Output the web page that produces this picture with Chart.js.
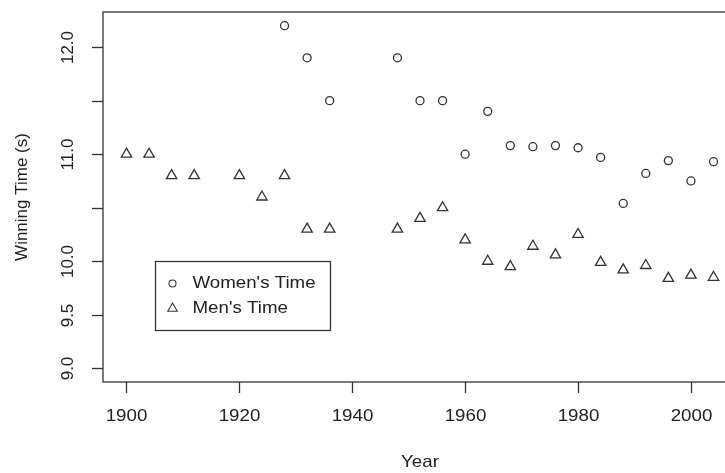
<!DOCTYPE html>
<html>
<head>
<meta charset="utf-8">
<script src="https://cdn.jsdelivr.net/npm/chart.js@4.4.1/dist/chart.umd.min.js"></script>
<style>
  html, body { margin: 0; padding: 0; background: #fff; overflow: hidden; }
  #wrap { width: 745px; height: 473px; }
</style>
</head>
<body>
<div id="wrap"><canvas id="chart" width="745" height="473"></canvas></div>
<script>
// Olympic 100m winning times
const womenYears = [1928, 1932, 1936, 1948, 1952, 1956, 1960, 1964, 1968, 1972, 1976, 1980, 1984, 1988, 1992, 1996, 2000, 2004];
const womenTimes = [12.2, 11.9, 11.5, 11.9, 11.5, 11.5, 11.0, 11.4, 11.08, 11.07, 11.08, 11.06, 10.97, 10.54, 10.82, 10.94, 10.75, 10.93];

const menYears = [1900, 1904, 1908, 1912, 1920, 1924, 1928, 1932, 1936, 1948, 1952, 1956, 1960, 1964, 1968, 1972, 1976, 1980, 1984, 1988, 1992, 1996, 2000, 2004];
const menTimes = [11.0, 11.0, 10.8, 10.8, 10.8, 10.6, 10.8, 10.3, 10.3, 10.3, 10.4, 10.5, 10.2, 10.0, 9.95, 10.14, 10.06, 10.25, 9.99, 9.92, 9.96, 9.84, 9.87, 9.85];

const xTicks = [1900, 1920, 1940, 1960, 1980, 2000];
const yTicks = [9.0, 9.5, 10.0, 10.5, 11.0, 11.5, 12.0];
const yTickLabels = ['9.0', '9.5', '10.0', '', '11.0', '', '12.0'];
const legendLabels = ["Women's Time", "Men's Time"];

// R-style limits: data range padded by 4%
const xlim = [1900, 2004];
const ylim = [9, 12.2];
const xPad = (xlim[1] - xlim[0]) * 0.04;
const yPad = (ylim[1] - ylim[0]) * 0.04;

const ink = '#333';
const font = '"Liberation Sans", Arial, sans-serif';
const stretch = 1.1; // the picture is a bit wider than tall

// horizontal text, slightly stretched like the reference
function wideText(ctx, txt, x, y, align) {
    ctx.save();
    ctx.translate(x, y);
    ctx.scale(stretch, 1);
    ctx.textAlign = align;
    ctx.fillText(txt, 0, 0);
    ctx.restore();
}

const baseAxes = {
    id: 'baseAxes',
    afterDraw(chart) {
        const ctx = chart.ctx;
        const a = chart.chartArea;
        const xs = chart.scales.x, ys = chart.scales.y;
        ctx.save();
        ctx.strokeStyle = ink;
        ctx.lineWidth = 1.3;
        ctx.strokeRect(a.left, a.top, a.right - a.left, a.bottom - a.top);

        ctx.fillStyle = '#222';
        ctx.font = '17px ' + font;
        ctx.textBaseline = 'middle';
        // x ticks
        xTicks.forEach(t => {
            const px = Math.round(xs.getPixelForValue(t)) + 0.5;
            ctx.beginPath();
            ctx.moveTo(px, a.bottom);
            ctx.lineTo(px, a.bottom + 11);
            ctx.stroke();
            wideText(ctx, String(t), px, 416, 'center');
        });
        // y ticks, rotated labels
        ctx.textAlign = 'center';
        yTicks.forEach((t, i) => {
            const py = Math.round(ys.getPixelForValue(t)) + 0.5;
            ctx.beginPath();
            ctx.moveTo(a.left, py);
            ctx.lineTo(a.left - 11, py);
            ctx.stroke();
            if (yTickLabels[i]) {
                ctx.save();
                ctx.translate(68, py);
                ctx.rotate(-Math.PI / 2);
                ctx.fillText(yTickLabels[i], 0, 0);
                ctx.restore();
            }
        });
        // axis titles
        wideText(ctx, 'Year', (a.left + a.right) / 2, 462, 'center');
        ctx.save();
        ctx.translate(22, (a.top + a.bottom) / 2);
        ctx.rotate(-Math.PI / 2);
        ctx.textAlign = 'center';
        ctx.fillText('Winning Time (s)', 0, 0);
        ctx.restore();

        // legend box, top-left anchored at (1905, 10.0)
        const lx = Math.round(xs.getPixelForValue(1905)) + 0.5;
        const ly = Math.round(ys.getPixelForValue(10.0)) + 0.5;
        ctx.strokeRect(lx, ly, 175, 69);
        ctx.lineWidth = 1.1;
        legendLabels.forEach((lab, i) => {
            const cy = ly + 22 + i * 25;
            wideText(ctx, lab, lx + 37, cy, 'left');
            ctx.beginPath();
            if (i === 0) {
                ctx.arc(lx + 17, cy, 3.5, 0, Math.PI * 2);
            } else {
                const r = 5.5;
                ctx.moveTo(lx + 17, cy - r);
                ctx.lineTo(lx + 17 + r * 0.866, cy + r * 0.5);
                ctx.lineTo(lx + 17 - r * 0.866, cy + r * 0.5);
                ctx.closePath();
            }
            ctx.stroke();
        });
        ctx.restore();
    }
};

new Chart(document.getElementById('chart').getContext('2d'), {
    type: 'scatter',
    data: {
        datasets: [{
            label: legendLabels[0],
            data: womenYears.map((y, i) => ({ x: y, y: womenTimes[i] })),
            pointStyle: 'circle',
            pointRadius: 4,
            borderColor: ink,
            backgroundColor: 'rgba(0,0,0,0)',
            borderWidth: 1.3
        }, {
            label: legendLabels[1],
            data: menYears.map((y, i) => ({ x: y, y: menTimes[i] })),
            pointStyle: 'triangle',
            pointRadius: 6,
            borderColor: ink,
            backgroundColor: 'rgba(0,0,0,0)',
            borderWidth: 1.3
        }]
    },
    options: {
        responsive: false,
        animation: false,
        layout: { padding: { left: 103, top: 12, right: 8, bottom: 91 } },
        plugins: { legend: { display: false }, tooltip: { enabled: false } },
        scales: {
            x: { type: 'linear', display: false, min: xlim[0] - xPad, max: xlim[1] + xPad },
            y: { type: 'linear', display: false, min: ylim[0] - yPad, max: ylim[1] + yPad }
        }
    },
    plugins: [baseAxes]
});
</script>
</body>
</html>
